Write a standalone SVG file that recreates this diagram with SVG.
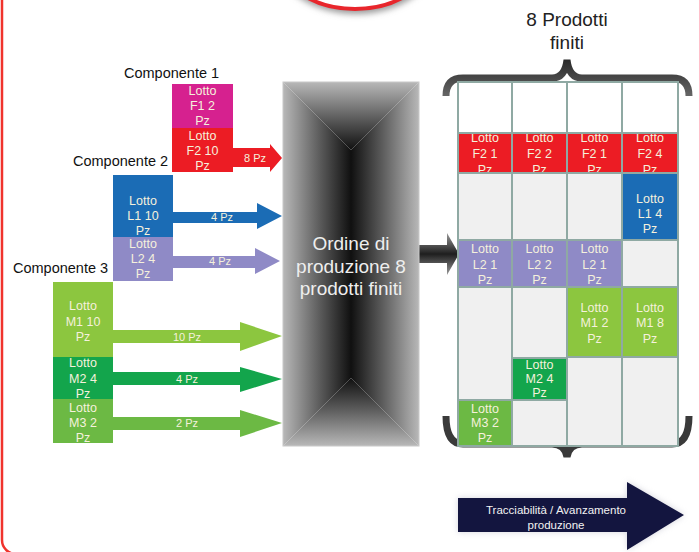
<svg xmlns="http://www.w3.org/2000/svg" width="699" height="552" viewBox="0 0 699 552">
<defs>
<style>
.lbl{font-family:"Liberation Sans",Arial,sans-serif;font-size:14.5px;fill:#111}
.bt{font-family:"Liberation Sans",Arial,sans-serif;font-size:12.5px;fill:#f5f1dc;text-anchor:middle}
.at{font-family:"Liberation Sans",Arial,sans-serif;font-size:11px;fill:#f5f1dc;text-anchor:middle}
.cell{stroke:#8fa9a3;stroke-width:2}
</style>
<linearGradient id="gl" x1="0" y1="0" x2="1" y2="0"><stop offset="0" stop-color="#b8b8b8"/><stop offset="0.55" stop-color="#5a5a5a"/><stop offset="1" stop-color="#101010"/></linearGradient>
<linearGradient id="gr" x1="1" y1="0" x2="0" y2="0"><stop offset="0" stop-color="#b8b8b8"/><stop offset="0.55" stop-color="#5a5a5a"/><stop offset="1" stop-color="#101010"/></linearGradient>
<linearGradient id="gt" x1="0" y1="0" x2="0" y2="1"><stop offset="0" stop-color="#b8b8b8"/><stop offset="0.55" stop-color="#5a5a5a"/><stop offset="1" stop-color="#101010"/></linearGradient>
<linearGradient id="gb" x1="0" y1="1" x2="0" y2="0"><stop offset="0" stop-color="#b8b8b8"/><stop offset="0.55" stop-color="#5a5a5a"/><stop offset="1" stop-color="#101010"/></linearGradient>
<linearGradient id="ga" x1="0" y1="0" x2="0" y2="1"><stop offset="0" stop-color="#9a9a9a"/><stop offset="0.5" stop-color="#1e1e1e"/><stop offset="1" stop-color="#9a9a9a"/></linearGradient>
<linearGradient id="gbr" x1="0" y1="0" x2="0" y2="1"><stop offset="0" stop-color="#2a2a2a"/><stop offset="1" stop-color="#666"/></linearGradient>
<clipPath id="redrow"><rect x="457" y="133" width="221" height="40"/></clipPath>
<filter id="sh" x="-20%" y="-20%" width="140%" height="160%"><feGaussianBlur stdDeviation="3"/></filter>
</defs>

<g id="frame">
<rect x="2" y="-30" width="760" height="584" rx="14" fill="none" stroke="#f0332c" stroke-width="2.5"/>
<ellipse cx="356" cy="-42" rx="80" ry="56" fill="#999" filter="url(#sh)"/>
<ellipse cx="355" cy="-46" rx="78" ry="55" fill="#fff" stroke="#e8262c" stroke-width="4"/>
</g>

<g id="title">
<text x="567" y="26" font-family="Liberation Sans,Arial,sans-serif" font-size="19" fill="#222" text-anchor="middle">8 Prodotti</text>
<text x="567" y="49" font-family="Liberation Sans,Arial,sans-serif" font-size="19" fill="#222" text-anchor="middle">finiti</text>
</g>

<g id="labels">
<text class="lbl" x="124" y="78">Componente 1</text>
<text class="lbl" x="73" y="166">Componente 2</text>
<text class="lbl" x="13" y="273">Componente 3</text>
</g>

<g id="connectors">
<polygon points="233,148 270,148 270,144 282,158 270,172 270,167 233,167" fill="#ec1c24"/>
<polygon points="173,212 257,212 257,203 282,216 257,229 257,223 173,223" fill="#1b6cb5"/>
<polygon points="173,256 255,256 255,248 280,261 255,274 255,268 173,268" fill="#8f8ac6"/>
<polygon points="113,330 240,330 240,322 282,336 240,351 240,343 113,343" fill="#8cc63f"/>
<polygon points="113,372 240,372 240,367 282,379 240,392 240,385 113,385" fill="#13a54c"/>
<polygon points="113,417 240,417 240,410 282,423 240,437 240,430 113,430" fill="#6cb944"/>
<text class="at" x="255" y="162">8 Pz</text>
<text class="at" x="222" y="221">4 Pz</text>
<text class="at" x="220" y="265">4 Pz</text>
<text class="at" x="187" y="341">10 Pz</text>
<text class="at" x="187" y="383">4 Pz</text>
<text class="at" x="187" y="427">2 Pz</text>
<polygon points="419,245 447,245 447,233 459,254 447,275 447,263 419,263" fill="url(#ga)"/>
</g>

<g id="comp1">
<rect x="172" y="84" width="61" height="44" fill="#d6218f"/>
<text class="bt" x="202.5" y="95">Lotto</text><text class="bt" x="202.5" y="110">F1 2</text><text class="bt" x="202.5" y="124.5">Pz</text>
<rect x="172" y="128" width="61" height="44" fill="#ec1c24"/>
<text class="bt" x="202.5" y="139.5">Lotto</text><text class="bt" x="202.5" y="155">F2 10</text><text class="bt" x="202.5" y="170">Pz</text>
</g>

<g id="comp2">
<rect x="113" y="175" width="60" height="62" fill="#1b6cb5"/>
<text class="bt" x="143" y="205">Lotto</text><text class="bt" x="143" y="220">L1 10</text><text class="bt" x="143" y="235">Pz</text>
<rect x="113" y="237" width="60" height="44" fill="#8f8ac6"/>
<text class="bt" x="143" y="248">Lotto</text><text class="bt" x="143" y="263">L2 4</text><text class="bt" x="143" y="278">Pz</text>
</g>

<g id="comp3">
<rect x="53" y="282" width="60" height="75" fill="#8cc63f"/>
<text class="bt" x="83" y="310">Lotto</text><text class="bt" x="83" y="326">M1 10</text><text class="bt" x="83" y="341">Pz</text>
<rect x="53" y="357" width="60" height="42" fill="#13a54c"/>
<text class="bt" x="83" y="367">Lotto</text><text class="bt" x="83" y="383">M2 4</text><text class="bt" x="83" y="398">Pz</text>
<rect x="53" y="399" width="60" height="44" fill="#6cb944"/>
<text class="bt" x="83" y="412">Lotto</text><text class="bt" x="83" y="427">M3 2</text><text class="bt" x="83" y="442">Pz</text>
</g>

<g id="ordine">
<polygon points="283,82 351,150 351,378 283,446" fill="url(#gl)"/>
<polygon points="419,82 351,150 351,378 419,446" fill="url(#gr)"/>
<polygon points="283,82 419,82 351,150" fill="url(#gt)"/>
<polygon points="283,446 419,446 351,378" fill="url(#gb)"/>
<rect x="283" y="82" width="136" height="364" fill="none" stroke="#c8c8c8" stroke-width="1"/>
<text x="351" y="250" font-family="Liberation Sans,Arial,sans-serif" font-size="19" fill="#eeeeee" text-anchor="middle">Ordine di</text>
<text x="351" y="273" font-family="Liberation Sans,Arial,sans-serif" font-size="19" fill="#eeeeee" text-anchor="middle">produzione 8</text>
<text x="351" y="295" font-family="Liberation Sans,Arial,sans-serif" font-size="19" fill="#eeeeee" text-anchor="middle">prodotti finiti</text>
</g>

<g id="braces">
<path d="M446,96 Q446,78 463,78 L552,78 Q565,78 567,60 Q569,78 582,78 L672,78 Q689,78 689,96" fill="none" stroke="url(#gbr)" stroke-width="7"/>
<path d="M446,416 Q446,444 463,444 L552,444 Q565,444 567,457 Q569,444 582,444 L672,444 Q689,444 689,416" fill="none" stroke="#3a3a3a" stroke-width="7"/>
</g>

<g id="grid">
<rect class="cell" x="458" y="82" width="54" height="51" fill="#ffffff"/>
<rect class="cell" x="512" y="82" width="55" height="51" fill="#ffffff"/>
<rect class="cell" x="567" y="82" width="55" height="51" fill="#ffffff"/>
<rect class="cell" x="622" y="82" width="56" height="51" fill="#ffffff"/>
<g clip-path="url(#redrow)">
<rect x="458" y="133" width="220" height="40" fill="#ec1c24"/>
<text class="bt" x="485" y="142">Lotto</text><text class="bt" x="485" y="158">F2 1</text><text class="bt" x="485" y="174">Pz</text>
<text class="bt" x="539.5" y="142">Lotto</text><text class="bt" x="539.5" y="158">F2 2</text><text class="bt" x="539.5" y="174">Pz</text>
<text class="bt" x="594.5" y="142">Lotto</text><text class="bt" x="594.5" y="158">F2 1</text><text class="bt" x="594.5" y="174">Pz</text>
<text class="bt" x="650" y="142">Lotto</text><text class="bt" x="650" y="158">F2 4</text><text class="bt" x="650" y="174">Pz</text>
</g>
<rect class="cell" x="458" y="133" width="54" height="40" fill="none"/>
<rect class="cell" x="512" y="133" width="55" height="40" fill="none"/>
<rect class="cell" x="567" y="133" width="55" height="40" fill="none"/>
<rect class="cell" x="622" y="133" width="56" height="40" fill="none"/>
<rect class="cell" x="458" y="173" width="54" height="67" fill="#f0f0f0"/>
<rect class="cell" x="512" y="173" width="55" height="67" fill="#f0f0f0"/>
<rect class="cell" x="567" y="173" width="55" height="67" fill="#f0f0f0"/>
<rect class="cell" x="622" y="173" width="56" height="67" fill="#1b6cb5"/>
<text class="bt" x="650" y="203">Lotto</text><text class="bt" x="650" y="218">L1 4</text><text class="bt" x="650" y="233">Pz</text>
<rect class="cell" x="458" y="240" width="54" height="47" fill="#8f8ac6"/>
<rect class="cell" x="512" y="240" width="55" height="47" fill="#8f8ac6"/>
<rect class="cell" x="567" y="240" width="55" height="47" fill="#8f8ac6"/>
<rect class="cell" x="622" y="240" width="56" height="47" fill="#f0f0f0"/>
<text class="bt" x="485" y="253">Lotto</text><text class="bt" x="485" y="269">L2 1</text><text class="bt" x="485" y="284">Pz</text>
<text class="bt" x="539.5" y="253">Lotto</text><text class="bt" x="539.5" y="269">L2 2</text><text class="bt" x="539.5" y="284">Pz</text>
<text class="bt" x="594.5" y="253">Lotto</text><text class="bt" x="594.5" y="269">L2 1</text><text class="bt" x="594.5" y="284">Pz</text>
<rect class="cell" x="458" y="287" width="54" height="113" fill="#f0f0f0"/>
<rect class="cell" x="512" y="287" width="55" height="71" fill="#f0f0f0"/>
<rect class="cell" x="567" y="287" width="55" height="70" fill="#8cc63f"/>
<rect class="cell" x="622" y="287" width="56" height="70" fill="#8cc63f"/>
<text class="bt" x="594.5" y="312">Lotto</text><text class="bt" x="594.5" y="327">M1 2</text><text class="bt" x="594.5" y="343">Pz</text>
<text class="bt" x="650" y="312">Lotto</text><text class="bt" x="650" y="327">M1 8</text><text class="bt" x="650" y="343">Pz</text>
<rect class="cell" x="512" y="358" width="55" height="42" fill="#13a54c"/>
<text class="bt" x="539.5" y="369" font-size="11.5">Lotto</text><text class="bt" x="539.5" y="383" font-size="11.5">M2 4</text><text class="bt" x="539.5" y="397" font-size="11.5">Pz</text>
<rect class="cell" x="567" y="357" width="55" height="89" fill="#f0f0f0"/>
<rect class="cell" x="622" y="357" width="56" height="89" fill="#f0f0f0"/>
<rect class="cell" x="458" y="400" width="54" height="46" fill="#6cb944"/>
<rect class="cell" x="512" y="400" width="55" height="46" fill="#f0f0f0"/>
<text class="bt" x="485" y="413" font-size="11">Lotto</text><text class="bt" x="485" y="427" font-size="11">M3 2</text><text class="bt" x="485" y="442" font-size="11">Pz</text>
</g>

<g id="avanzamento">
<polygon points="458,498 627,498 627,482 684,515 627,550 627,532 458,532" fill="#aab" opacity="0.5" filter="url(#sh)"/>
<polygon points="458,498 627,498 627,482 684,515 627,550 627,532 458,532" fill="#13153f"/>
<text x="556" y="514" font-family="Liberation Sans,Arial,sans-serif" font-size="11.5" fill="#f2f2f2" text-anchor="middle">Tracciabilità / Avanzamento</text>
<text x="556" y="529" font-family="Liberation Sans,Arial,sans-serif" font-size="11.5" fill="#f2f2f2" text-anchor="middle">produzione</text>
</g>
</svg>
